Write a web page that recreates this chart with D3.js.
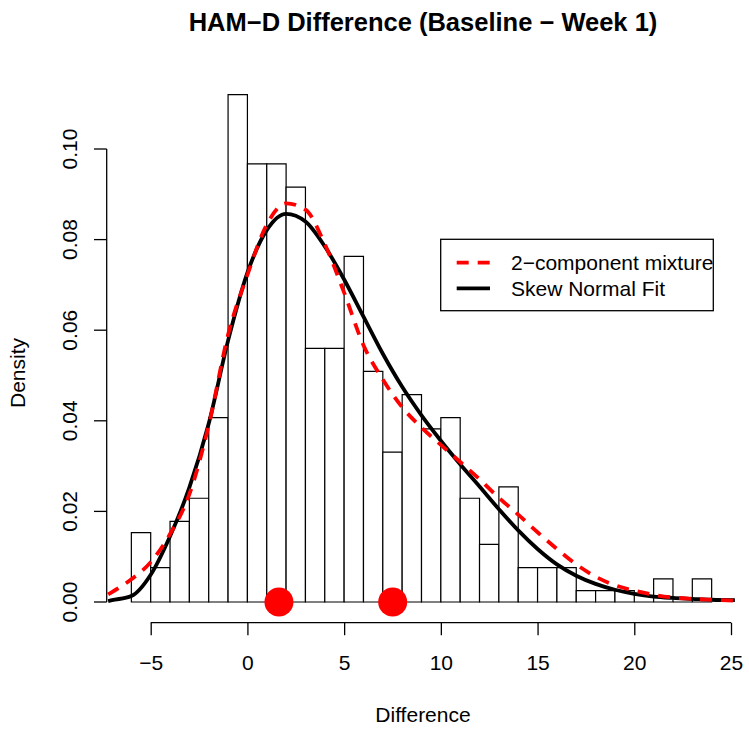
<!DOCTYPE html>
<html>
<head>
<meta charset="utf-8">
<script src="https://cdn.jsdelivr.net/npm/d3@7"></script>
<style>
  html, body { margin: 0; padding: 0; background: #fff; }
  svg { display: block; }
  text { font-family: "Liberation Sans", Arial, Helvetica, sans-serif; fill: #000; }
</style>
</head>
<body>
<svg id="chart" width="749" height="729"></svg>
<script>
// ---- data ----
const binStarts = [-6,-5,-4,-3,-2,-1,0,1,2,3,4,5,6,7,8,9,10,11,12,13,14,15,16,17,18,19,20,21,22,23];
const binDensity = [0.0153,0.0076,0.0178,0.0229,0.0407,0.1120,0.0967,0.0967,0.0916,0.0560,
                    0.0560,0.0763,0.0509,0.0331,0.0458,0.0382,0.0407,0.0229,0.0127,0.0254,
                    0.0076,0.0076,0.0076,0.0025,0.0025,0.0025,0.0000,0.0051,0.0000,0.0051];
const binWidth = 1;

const skewX = [-7.2,-7,-6,-5,-4,-3,-2,-1,0,1,2,3,4,5,6,7,8,9,10,11,12,13,14,15,16,17,18,19,20,21,22,23,24,25.2];
const skewY = [0.0002,0.0004,0.0013,0.0060,0.0145,0.0253,0.0394,0.0577,0.0727,0.0821,0.0857,0.0840,0.0785,0.0712,0.0630,0.0548,0.0475,0.0412,0.0356,0.0304,0.0255,0.0205,0.0158,0.0117,0.0083,0.0058,0.0040,0.0027,0.0018,0.0012,0.0009,0.0007,0.0005,0.0004];

const mixX = [-7.2,-7,-6,-5,-4,-3,-2,-1,0,1,2,3,4,5,6,7,8,9,10,11,12,13,14,15,16,17,18,19,20,21,22,23,24,25.2];
const mixY = [0.0017,0.0022,0.0050,0.0088,0.0150,0.0238,0.0390,0.0590,0.0722,0.0833,0.0880,0.0866,0.0790,0.0683,0.0567,0.0491,0.0430,0.0385,0.0347,0.0309,0.0271,0.0230,0.0193,0.0154,0.0117,0.0083,0.0056,0.0037,0.0025,0.0016,0.0010,0.0007,0.0005,0.0003];

const markerX = [1.63, 7.51];

const xTicks = [-5,0,5,10,15,20,25];
const yTicks = [0,0.02,0.04,0.06,0.08,0.10];
const titleText = "HAM\u2212D Difference (Baseline \u2212 Week 1)";
const xLabel = "Difference";
const yLabel = "Density";
const legendLabels = ["2\u2212component mixture", "Skew Normal Fit"];

// ---- scales ----
const svg = d3.select("#chart");
const x = d3.scaleLinear().domain([-5, 25]).range([150.7, 731]);
const y = d3.scaleLinear().domain([0, 0.10]).range([602, 149]);

// ---- histogram bars ----
svg.append("g").selectAll("path")
  .data(binStarts.map((s, i) => ({s, d: binDensity[i]})))
  .join("path")
  .attr("d", b => {
    const x0 = x(b.s), x1 = x(b.s + binWidth), y0 = y(0), y1 = y(b.d);
    return `M${x0},${y0}L${x0},${y1}L${x1},${y1}L${x1},${y0}Z`;
  })
  .attr("fill", "#fff")
  .attr("stroke", "#000")
  .attr("stroke-width", 1.2);

// ---- curves ----
const line = d3.line().x(d => x(d[0])).y(d => y(d[1])).curve(d3.curveMonotoneX);

svg.append("path")
  .datum(skewX.map((v, i) => [v, skewY[i]]))
  .attr("d", line)
  .attr("fill", "none")
  .attr("stroke", "#000")
  .attr("stroke-width", 3.8);

svg.append("path")
  .datum(mixX.map((v, i) => [v, mixY[i]]))
  .attr("d", line)
  .attr("fill", "none")
  .attr("stroke", "#ff0000")
  .attr("stroke-width", 3.8)
  .attr("stroke-dasharray", "12,9");

// ---- markers ----
svg.append("g").selectAll("circle")
  .data(markerX)
  .join("circle")
  .attr("cx", d => x(d))
  .attr("cy", y(0))
  .attr("r", 14.5)
  .attr("fill", "#ff0000");

// ---- axes ----
const xAxis = d3.axisBottom(x).tickValues(xTicks).tickSize(12.5).tickPadding(10)
  .tickFormat(d => d < 0 ? "\u2212" + Math.abs(d) : String(d));
const gx = svg.append("g").attr("transform", "translate(0,622.7)").call(xAxis);
gx.select(".domain").attr("d", `M${x(-5)},0H${x(25)}`).attr("stroke", "#000").attr("stroke-width", 1.3);
gx.selectAll(".tick line").attr("stroke", "#000").attr("stroke-width", 1.3);
gx.selectAll(".tick text").attr("font-size", 21).attr("font-family", "Liberation Sans, Arial, sans-serif")
  .attr("y", null).attr("dy", null).attr("transform", "translate(0,47.5)");

const gy = svg.append("g").attr("transform", "translate(106.7,0)");
gy.append("path").attr("d", `M0,${y(0)}V${y(0.10)}`).attr("stroke", "#000").attr("stroke-width", 1.3).attr("fill", "none");
gy.selectAll("line.tk").data(yTicks).join("line")
  .attr("x1", 0).attr("x2", -12.7).attr("y1", d => y(d)).attr("y2", d => y(d))
  .attr("stroke", "#000").attr("stroke-width", 1.3);
gy.selectAll("text.tl").data(yTicks).join("text")
  .attr("transform", d => `translate(-30,${y(d)}) rotate(-90)`)
  .attr("text-anchor", "middle")
  .attr("font-size", 21)
  .text(d => d3.format(".2f")(d));

// ---- titles ----
svg.append("text").attr("x", 423).attr("y", 31).attr("text-anchor", "middle")
  .attr("font-size", 25.5).attr("font-weight", "bold").text(titleText);
svg.append("text").attr("x", 423).attr("y", 722).attr("text-anchor", "middle")
  .attr("font-size", 21).text(xLabel);
svg.append("text").attr("transform", "translate(25,373) rotate(-90)").attr("text-anchor", "middle")
  .attr("font-size", 21).text(yLabel);

// ---- legend ----
const lg = svg.append("g");
lg.append("rect").attr("x", 440.7).attr("y", 239.3).attr("width", 272.6).attr("height", 71.4)
  .attr("fill", "#fff").attr("stroke", "#000").attr("stroke-width", 1.3);
const legendStyles = [{c: "#ff0000", dash: "12,9"}, {c: "#000", dash: null}];
legendLabels.forEach((lab, i) => {
  const yy = 262.7 + i * 25.6;
  lg.append("line").attr("x1", 456.7).attr("x2", 490).attr("y1", yy).attr("y2", yy)
    .attr("stroke", legendStyles[i].c).attr("stroke-width", 3.8)
    .attr("stroke-dasharray", legendStyles[i].dash);
  lg.append("text").attr("x", 511).attr("y", yy + 7.5).attr("font-size", 21).text(lab);
});
</script>
</body>
</html>
